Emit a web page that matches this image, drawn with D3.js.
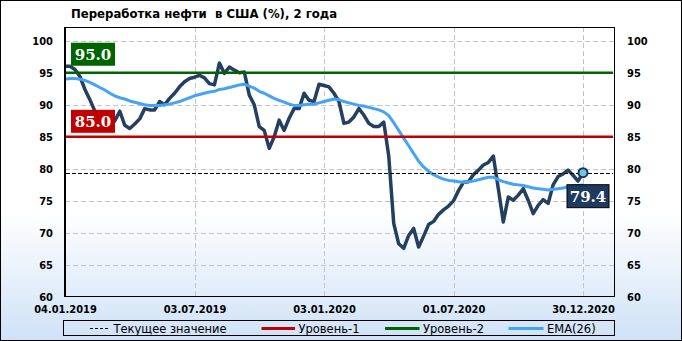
<!DOCTYPE html>
<html>
<head>
<meta charset="utf-8">
<script src="https://cdn.jsdelivr.net/npm/d3@7"></script>
<style>
    body { margin: 0; }
    svg { display: block; }
    text { font-family: "DejaVu Sans Condensed", "DejaVu Sans", sans-serif; }
</style>
</head>
<body>
<div class="chart"></div>
<script>
// weekly refinery utilisation, USA (%)
var tickLabels = ["04.01.2019", "03.07.2019", "03.01.2020", "01.07.2020", "30.12.2020"];
var tickWeeks = [0, 26, 52, 78, 104];

var refining = [
    96.0, 96.0, 95.5, 94.4, 92.4, 90.8, 89.0, 88.0, 87.5, 86.8,
    87.5, 89.0, 86.8, 86.3, 87.0, 87.8, 89.4, 89.2, 89.2, 90.5,
    90.0, 91.0, 91.8, 92.8, 93.6, 94.1, 94.3, 94.6, 94.2, 93.3,
    93.1, 96.5, 94.9, 95.9, 95.4, 95.0, 95.1, 91.5, 90.0, 86.6,
    86.0, 83.2, 85.0, 87.6, 86.0, 87.9, 89.4, 89.4, 91.8, 90.7,
    90.5, 93.2, 93.0, 92.8, 91.8, 90.5, 87.1, 87.3, 88.1, 89.4,
    88.4, 87.1, 86.6, 86.6, 87.3, 82.0, 71.5, 68.3, 67.6, 69.6,
    70.7, 67.8, 69.5, 71.3, 71.8, 72.9, 73.6, 74.2, 75.0, 76.6,
    77.9, 78.0, 79.1, 79.8, 80.6, 81.0, 82.0, 76.9, 71.7, 75.6,
    75.1, 75.9, 76.9, 75.1, 73.0, 74.3, 75.2, 74.6, 77.5, 78.8,
    79.2, 79.8, 79.0, 78.1, 79.4
];

var ema26 = [
    94.0, 94.1, 94.1, 94.0, 93.8, 93.5, 93.1, 92.7, 92.3, 91.8,
    91.4, 91.1, 90.9, 90.6, 90.4, 90.2, 90.0, 89.9, 89.9, 89.9,
    90.0, 90.1, 90.3, 90.5, 90.8, 91.1, 91.4, 91.6, 91.8, 92.0,
    92.1, 92.4, 92.5, 92.7, 92.9, 93.1, 93.2, 92.9, 92.6, 92.1,
    91.8, 91.4, 91.0, 90.7, 90.4, 90.1, 89.9, 89.9, 90.0, 90.1,
    90.1, 90.3, 90.5, 90.7, 90.9, 90.8, 90.5, 90.3, 90.1, 89.9,
    89.8, 89.6, 89.4, 89.2, 88.9, 88.3, 87.2, 86.0, 84.8, 83.6,
    82.4, 81.2, 80.3, 79.6, 79.1, 78.7, 78.4, 78.2, 78.1, 78.0,
    77.9, 78.0, 78.1, 78.3, 78.5, 78.7, 78.7, 78.3, 78.0, 77.8,
    77.6, 77.5, 77.4, 77.2, 77.0, 76.9, 76.8, 76.7, 76.8, 76.9,
    77.0, 77.2, 77.3, 77.4, 77.5
];

var levelValues = [85.0, 95.0];
var levelNames = ["Уровень-1", "Уровень-2"];
var levelColors = ["#c00000", "#006400"];
var currentValue = 79.4;

var yTicks = [60, 65, 70, 75, 80, 85, 90, 95, 100];

var margin = { top: 27, right: 67, bottom: 44, left: 65 },
    W = 682, H = 341,
    width = W - margin.left - margin.right,
    height = H - margin.top - margin.bottom;

var svgRoot = d3.select(".chart")
    .append("svg")
    .attr("width", W)
    .attr("height", H);

// background gradient
var grad = svgRoot.append("defs").append("linearGradient")
    .attr("id", "bg")
    .attr("x1", 0).attr("y1", 0).attr("x2", 0).attr("y2", 1);
grad.append("stop").attr("offset", "0").attr("stop-color", "#ffffff");
grad.append("stop").attr("offset", "0.62").attr("stop-color", "#ffffff");
grad.append("stop").attr("offset", "1").attr("stop-color", "#cfe2f7");

svgRoot.append("rect")
    .attr("x", 0.5).attr("y", 0.5)
    .attr("width", W - 1).attr("height", H - 1)
    .attr("fill", "url(#bg)")
    .attr("stroke", "#000");

svgRoot.append("text")
    .attr("x", 71)
    .attr("y", 18)
    .style("font-size", "13px")
    .style("font-weight", "bold")
    .style("white-space", "pre")
    .text("Переработка нефти  в США (%), 2 года");

var svg = svgRoot.append("g")
    .attr("transform", "translate(" + margin.left + "," + margin.top + ")");

var x = d3.scaleLinear()
    .domain([0, 104])
    .range([0, 518]);

var y = d3.scaleLinear()
    .domain([60, 100])
    .range([height, 13.7]);

// grid
svg.selectAll(".hgrid")
    .data(yTicks.filter(function (d) { return d > 60; }))
    .enter()
    .append("line")
    .attr("x1", 0).attr("x2", width)
    .attr("y1", function (d) { return Math.round(y(d)) + 0.5; })
    .attr("y2", function (d) { return Math.round(y(d)) + 0.5; })
    .attr("stroke", "#c4c4c4")
    .attr("stroke-dasharray", "5,3");

svg.selectAll(".vgrid")
    .data(tickWeeks.slice(1))
    .enter()
    .append("line")
    .attr("x1", function (d) { return Math.round(x(d)) + 0.5; })
    .attr("x2", function (d) { return Math.round(x(d)) + 0.5; })
    .attr("y1", 0).attr("y2", height)
    .attr("stroke", "#c4c4c4")
    .attr("stroke-dasharray", "5,3");

// axes (labels only)
var axisFont = function (g) {
    g.select(".domain").remove();
    g.selectAll("line").remove();
    g.selectAll("text")
        .attr("fill", "#000")
        .style("font-size", "11px")
        .style("font-weight", "bold")
        .style("font-family", "\"DejaVu Sans Condensed\", \"DejaVu Sans\", sans-serif");
};

svg.append("g")
    .call(d3.axisLeft(y).tickValues(yTicks).tickSize(0).tickPadding(12))
    .call(axisFont);

svg.append("g")
    .attr("transform", "translate(" + width + ",0)")
    .call(d3.axisRight(y).tickValues(yTicks).tickSize(0).tickPadding(12))
    .call(axisFont);

svg.append("g")
    .attr("transform", "translate(0," + height + ")")
    .call(d3.axisBottom(x).tickValues(tickWeeks).tickSize(0).tickPadding(8)
        .tickFormat(function (d, i) { return tickLabels[i]; }))
    .call(axisFont);

// series
var line = d3.line()
    .x(function (d, i) { return x(i); })
    .y(function (d) { return y(d); });

svg.append("path")
    .datum(refining)
    .attr("fill", "none")
    .attr("stroke", "#243f60")
    .attr("stroke-width", 3.5)
    .attr("stroke-linejoin", "round")
    .attr("d", line);

svg.append("path")
    .datum(ema26)
    .attr("fill", "none")
    .attr("stroke", "#45a3f5")
    .attr("stroke-width", 3)
    .attr("stroke-linejoin", "round")
    .attr("d", line);

// levels
svg.selectAll(".level")
    .data(levelValues)
    .enter()
    .append("line")
    .attr("x1", 1).attr("x2", width - 2)
    .attr("y1", function (d) { return y(d); })
    .attr("y2", function (d) { return y(d); })
    .attr("stroke", function (d, i) { return levelColors[i]; })
    .attr("stroke-width", 2.5);

svg.append("line")
    .attr("x1", 1).attr("x2", width - 2)
    .attr("y1", Math.round(y(currentValue)) + 0.5)
    .attr("y2", Math.round(y(currentValue)) + 0.5)
    .attr("stroke", "#000")
    .attr("stroke-width", 1.2)
    .attr("stroke-dasharray", "4,2");

// level tags
var tagOffset = [27, 30];
levelValues.forEach(function (v, i) {
    var top = y(v) - tagOffset[i];
    svg.append("rect")
        .attr("x", 6).attr("y", top)
        .attr("width", 44).attr("height", 23)
        .attr("fill", levelColors[i]);
    svg.append("text")
        .attr("x", 28).attr("y", top + 17)
        .attr("text-anchor", "middle")
        .attr("fill", "#fff")
        .style("font-family", "\"DejaVu Serif\", serif")
        .style("font-weight", "bold")
        .style("font-size", "15px")
        .text(v.toFixed(1));
});

// current value marker
var lastX = x(refining.length - 1), lastY = y(currentValue);
svg.append("rect")
    .attr("x", lastX - 16).attr("y", lastY + 12)
    .attr("width", 42).attr("height", 23)
    .attr("fill", "#1e3a5f")
    .attr("stroke", "#000");
svg.append("text")
    .attr("x", lastX + 5).attr("y", lastY + 29)
    .attr("text-anchor", "middle")
    .attr("fill", "#fff")
    .style("font-family", "\"DejaVu Serif\", serif")
    .style("font-weight", "bold")
    .style("font-size", "15px")
    .text(currentValue.toFixed(1));
svg.append("circle")
    .attr("cx", lastX).attr("cy", lastY)
    .attr("r", 4.5)
    .attr("fill", "#6ec6e0")
    .attr("stroke", "#1b355a")
    .attr("stroke-width", 2);

// frame
svg.append("rect")
    .attr("x", 0.5).attr("y", 0.5)
    .attr("width", width - 1).attr("height", height - 1)
    .attr("fill", "none")
    .attr("stroke", "#000");
svg.append("line")
    .attr("x1", 0).attr("x2", 0).attr("y1", 0).attr("y2", height)
    .attr("stroke", "#000").attr("stroke-width", 2);

// legend
var lg = svgRoot.append("g").attr("transform", "translate(63.5,320.5)");
lg.append("rect")
    .attr("width", 551).attr("height", 15)
    .attr("fill", "none")
    .attr("stroke", "#000");

var legendItems = [
    { name: "Текущее значение", color: "#000", dash: "3,2", w: 1.2, x0: 26.5, len: 20 },
    { name: levelNames[0], color: levelColors[0], dash: null, w: 3, x0: 198, len: 33.5 },
    { name: levelNames[1], color: levelColors[1], dash: null, w: 3, x0: 321.5, len: 34.5 },
    { name: "EMA(26)", color: "#45a3f5", dash: null, w: 3, x0: 445, len: 35 }
];

legendItems.forEach(function (d) {
    lg.append("line")
        .attr("x1", d.x0).attr("x2", d.x0 + d.len)
        .attr("y1", 8).attr("y2", 8)
        .attr("stroke", d.color)
        .attr("stroke-width", d.w)
        .attr("stroke-dasharray", d.dash);
    lg.append("text")
        .attr("x", d.x0 + d.len + 3.5).attr("y", 12)
        .style("font-family", "\"DejaVu Sans\", sans-serif")
        .style("font-size", "11.5px")
        .text(d.name);
});
</script>
</body>
</html>
